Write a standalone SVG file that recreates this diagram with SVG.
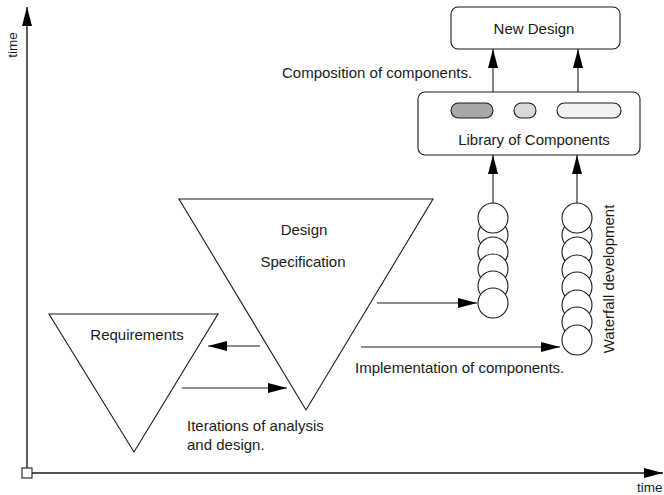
<svg xmlns="http://www.w3.org/2000/svg" width="664" height="495" viewBox="0 0 664 495">
  <style>
    text { font-family: "Liberation Sans", Arial, sans-serif; font-size: 15px; fill: #1a1a1a; }
    .small { font-size: 13.5px; }
    .shape { fill: #fff; stroke: #1a1a1a; stroke-width: 1.1; }
    .line { fill: none; stroke: #1a1a1a; stroke-width: 1.1; }
    .axis { fill: none; stroke: #1a1a1a; stroke-width: 1.4; }
    .mid { text-anchor: middle; }
  </style>
  <defs>
    <marker id="arrow" markerUnits="userSpaceOnUse" markerWidth="20" markerHeight="12" refX="19" refY="5.5" orient="auto">
      <path d="M0,0.5 L19,5.5 L0,10.5 z" fill="#000"/>
    </marker>
  </defs>

  <rect width="664" height="495" fill="#fff"/>

  <!-- time axes -->
  <g id="axes">
    <line class="axis" x1="27" y1="473" x2="27" y2="7" marker-end="url(#arrow)"/>
    <line class="axis" x1="27" y1="473" x2="663" y2="473" marker-end="url(#arrow)"/>
    <rect class="shape" x="22" y="468" width="10" height="10" stroke-width="1.3"/>
    <text class="small mid" x="17" y="45" transform="rotate(-90 17 45)">time</text>
    <text class="small" x="637" y="492">time</text>
  </g>

  <!-- requirements phase -->
  <g id="requirements">
    <polygon class="shape" points="49,314 218,314 134,452"/>
    <text class="mid" x="137" y="340">Requirements</text>
  </g>

  <!-- design specification phase -->
  <g id="design-spec">
    <polygon class="shape" points="179,199 433,199 306,410"/>
    <text class="mid" x="304" y="235">Design</text>
    <text class="mid" x="303" y="267">Specification</text>
  </g>

  <!-- component library -->
  <g id="library">
    <rect class="shape" x="418" y="92" width="222" height="63" rx="7"/>
    <rect x="451" y="103" width="42" height="15" rx="7.5" fill="#a8a8a8" stroke="#1a1a1a" stroke-width="1.1"/>
    <rect x="514" y="103" width="22" height="15" rx="7.5" fill="#d9d9d9" stroke="#1a1a1a" stroke-width="1.1"/>
    <rect x="557" y="103" width="64" height="15" rx="7.5" fill="#f2f2f2" stroke="#1a1a1a" stroke-width="1.1"/>
    <text class="mid" x="534" y="145">Library of Components</text>
  </g>

  <!-- resulting design -->
  <g id="new-design">
    <rect class="shape" x="451" y="7" width="169" height="42" rx="7"/>
    <text class="mid" x="534" y="34">New Design</text>
  </g>

  <!-- component stacks -->
  <g id="stack-left">
    <circle class="shape" cx="493" cy="235" r="15"/>
    <circle class="shape" cx="493" cy="252" r="15"/>
    <circle class="shape" cx="493" cy="269" r="15"/>
    <circle class="shape" cx="493" cy="286" r="15"/>
    <circle class="shape" cx="493" cy="303" r="15"/>
    <circle class="shape" cx="493" cy="218" r="15"/>
  </g>
  <g id="stack-right">
    <circle class="shape" cx="577" cy="235" r="15"/>
    <circle class="shape" cx="577" cy="252" r="15"/>
    <circle class="shape" cx="577" cy="270" r="15"/>
    <circle class="shape" cx="577" cy="287" r="15"/>
    <circle class="shape" cx="577" cy="305" r="15"/>
    <circle class="shape" cx="577" cy="322" r="15"/>
    <circle class="shape" cx="577" cy="340" r="15"/>
    <circle class="shape" cx="577" cy="218" r="15"/>
    <text class="mid" x="614" y="279" transform="rotate(-90 614 279)">Waterfall development</text>
  </g>

  <!-- connectors -->
  <g id="connectors">
    <line class="line" x1="260" y1="346" x2="208" y2="346" marker-end="url(#arrow)"/>
    <line class="line" x1="182" y1="388" x2="287" y2="388" marker-end="url(#arrow)"/>
    <line class="line" x1="377" y1="303" x2="477" y2="303" marker-end="url(#arrow)"/>
    <line class="line" x1="361" y1="347" x2="560" y2="347" marker-end="url(#arrow)"/>
    <line class="line" x1="493" y1="203" x2="493" y2="155" marker-end="url(#arrow)"/>
    <line class="line" x1="577" y1="203" x2="577" y2="155" marker-end="url(#arrow)"/>
    <line class="line" x1="493" y1="92" x2="493" y2="49" marker-end="url(#arrow)"/>
    <line class="line" x1="578" y1="92" x2="578" y2="49" marker-end="url(#arrow)"/>
  </g>

  <!-- annotations -->
  <g id="labels">
    <text x="282" y="78">Composition of components.</text>
    <text x="355" y="373">Implementation of components.</text>
    <text x="187" y="431">Iterations of analysis</text>
    <text x="187" y="450">and design.</text>
  </g>
</svg>
